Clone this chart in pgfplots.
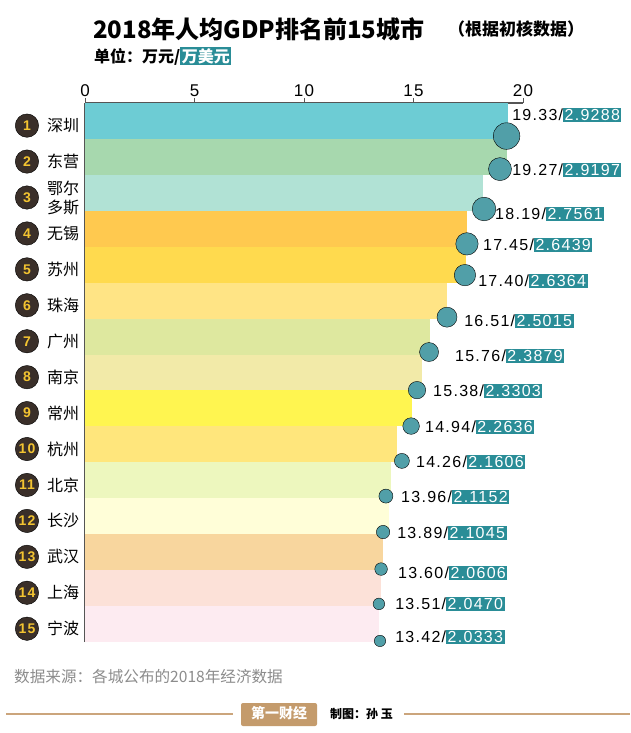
\documentclass[border=0pt]{standalone}
\usepackage{pgfplots}
\pgfplotsset{compat=1.18}
\usepackage{pgfplotstable}
\usepackage{fontspec}
\setmainfont{Noto Sans CJK SC}
\newfontfamily\num[LetterSpace=8]{Liberation Sans}
\definecolor{c1}{HTML}{6DCCD4}
\definecolor{c2}{HTML}{A7D8AE}
\definecolor{c3}{HTML}{B1E2D5}
\definecolor{c4}{HTML}{FFC94F}
\definecolor{c5}{HTML}{FFDA4E}
\definecolor{c6}{HTML}{FFE485}
\definecolor{c7}{HTML}{DEE89F}
\definecolor{c8}{HTML}{F2EAA8}
\definecolor{c9}{HTML}{FFF550}
\definecolor{c10}{HTML}{FFE67C}
\definecolor{c11}{HTML}{EDF7BE}
\definecolor{c12}{HTML}{FFFED8}
\definecolor{c13}{HTML}{F8D69E}
\definecolor{c14}{HTML}{FCE1D8}
\definecolor{c15}{HTML}{FDEBF1}
\definecolor{circ}{HTML}{519FA8}
\definecolor{lab}{HTML}{2A8D97}
\definecolor{dk}{HTML}{3A2F29}
\definecolor{yel}{HTML}{F3C431}
\definecolor{tanl}{HTML}{CBA57C}
\definecolor{tanf}{HTML}{C49B6C}
\definecolor{axl}{HTML}{555555}
\setlength{\fboxsep}{1.5pt}

\pgfplotstableread{
rank y val cx cy r lx ly nx ny usd
1 15 19.33 19.25 14.58 13.3 19.50 15.17 -2.65 14.87 2.9288
2 14 19.27 18.95 13.66 11.5 19.50 13.64 -2.65 13.87 2.9197
3 13 18.19 18.22 12.55 11.8 18.72 12.41 -2.65 12.87 2.7561
4 12 17.45 17.44 11.58 11.2 18.17 11.55 -2.65 11.87 2.6439
5 11 17.40 17.35 10.71 10.7 17.95 10.55 -2.65 10.87 2.6364
6 10 16.51 16.53 9.54 10.0 17.31 9.43 -2.65 9.87 2.5015
7 9 15.76 15.71 8.57 9.5 16.89 8.46 -2.65 8.87 2.3879
8 8 15.38 15.16 7.51 8.7 15.89 7.48 -2.65 7.87 2.3303
9 7 14.94 14.89 6.51 8.3 15.52 6.48 -2.65 6.87 2.2636
10 6 14.26 14.47 5.54 7.5 15.11 5.51 -2.65 5.87 2.1606
11 5 13.96 13.74 4.56 7.0 14.43 4.53 -2.65 4.87 2.1152
12 4 13.89 13.61 3.56 6.7 14.25 3.53 -2.65 3.87 2.1045
13 3 13.60 13.52 2.53 6.3 14.29 2.42 -2.65 2.87 2.0606
14 2 13.51 13.42 1.56 5.8 14.16 1.56 -2.65 1.87 2.0470
15 1 13.42 13.47 0.53 5.7 14.16 0.64 -2.65 0.87 2.0333
}\data

\begin{document}
\begin{tikzpicture}
\useasboundingbox (0,0) rectangle (630pt,-733pt);
\fill[white] (0,0) rectangle (630pt,-733pt);
\begin{axis}[
  at={(85pt,-103pt)}, anchor=north west,
  scale only axis, width=438pt, height=539pt,
  xmin=0, xmax=20, ymin=0.5, ymax=15.5,
  axis x line*=top, axis y line*=left,
  axis line style={draw=axl, line width=1.2pt},
  xtick={0,5,10,15,20},
  ytick={1,...,15},
  yticklabels={宁波,上海,武汉,长沙,北京,杭州,常州,南京,广州,珠海,苏州,无锡,{鄂尔\\多斯},东营,深圳},
  tick align=outside, major tick length=5pt,
  xtick style={draw=axl, line width=1pt},
  ytick style={draw=none},
  /pgf/number format/assume math mode=true,
  xticklabel style={font=\num\fontsize{17}{17}\selectfont, text=black, inner sep=1pt},
  yticklabel style={anchor=west, xshift=-33pt, yshift=-4.7pt, align=left, inner sep=0pt,
    font=\fontsize{16}{19}\selectfont, text=black},
  clip=false,
]
\addplot[xbar, bar width=35.93pt, bar shift=0pt, fill=c1, draw=none] coordinates {(19.33,15)};
\addplot[xbar, bar width=35.93pt, bar shift=0pt, fill=c2, draw=none] coordinates {(19.27,14)};
\addplot[xbar, bar width=35.93pt, bar shift=0pt, fill=c3, draw=none] coordinates {(18.19,13)};
\addplot[xbar, bar width=35.93pt, bar shift=0pt, fill=c4, draw=none] coordinates {(17.45,12)};
\addplot[xbar, bar width=35.93pt, bar shift=0pt, fill=c5, draw=none] coordinates {(17.40,11)};
\addplot[xbar, bar width=35.93pt, bar shift=0pt, fill=c6, draw=none] coordinates {(16.51,10)};
\addplot[xbar, bar width=35.93pt, bar shift=0pt, fill=c7, draw=none] coordinates {(15.76,9)};
\addplot[xbar, bar width=35.93pt, bar shift=0pt, fill=c8, draw=none] coordinates {(15.38,8)};
\addplot[xbar, bar width=35.93pt, bar shift=0pt, fill=c9, draw=none] coordinates {(14.94,7)};
\addplot[xbar, bar width=35.93pt, bar shift=0pt, fill=c10, draw=none] coordinates {(14.26,6)};
\addplot[xbar, bar width=35.93pt, bar shift=0pt, fill=c11, draw=none] coordinates {(13.96,5)};
\addplot[xbar, bar width=35.93pt, bar shift=0pt, fill=c12, draw=none] coordinates {(13.89,4)};
\addplot[xbar, bar width=35.93pt, bar shift=0pt, fill=c13, draw=none] coordinates {(13.60,3)};
\addplot[xbar, bar width=35.93pt, bar shift=0pt, fill=c14, draw=none] coordinates {(13.51,2)};
\addplot[xbar, bar width=35.93pt, bar shift=0pt, fill=c15, draw=none] coordinates {(13.42,1)};
% bubbles
\addplot[scatter, only marks, mark=*,
  scatter/use mapped color={draw=none, fill=circ},
  visualization depends on={\thisrow{r}\as\rr},
  scatter/@pre marker code/.append style={/tikz/mark size=\rr}]
  table[x=cx, y=cy] {\data};
% value labels
\addplot[draw=none, mark=none, point meta=explicit symbolic,
  visualization depends on={\thisrow{usd}\as\usd},
  nodes near coords={\pgfplotspointmeta/\colorbox{lab}{\textcolor{white}{\pgfmathprintnumber[fixed, precision=4, zerofill]{\usd}}}},
  every node near coord/.append style={anchor=west, inner sep=0pt, text=black,
    font=\num\fontsize{16}{16}\selectfont}]
  table[x=lx, y=ly, meta=val] {\data};
% rank circles
\addplot[only marks, mark=*, mark size=11.7pt, mark options={draw=none, fill=dk},
  point meta=explicit symbolic, nodes near coords,
  every node near coord/.append style={anchor=center, inner sep=0pt, text=yel,
    font=\num\bfseries\fontsize{14}{14}\selectfont}]
  table[x=nx, y=ny, meta=rank] {\data};
\end{axis}
\node[anchor=west, inner sep=0pt, font=\bfseries\fontsize{24}{24}\selectfont] at (93pt,-29pt) {2018年人均GDP排名前15城市};
\node[anchor=west, inner sep=0pt, font=\bfseries\fontsize{17}{17}\selectfont] at (448pt,-29pt) {（根据初核数据）};
\node[anchor=west, inner sep=0pt, font=\bfseries\fontsize{16}{16}\selectfont] at (94pt,-56pt) {单位：万元/\colorbox{lab}{\textcolor{white}{万美元}}};
\node[anchor=west, inner sep=0pt, text=black!45, font=\fontsize{15.6}{15.6}\selectfont] at (14pt,-677pt) {数据来源：各城公布的2018年经济数据};
\draw[tanl, line width=1.2pt] (6pt,-714pt) -- (233pt,-714pt);
\draw[tanl, line width=1.2pt] (404pt,-714pt) -- (630pt,-714pt);
\fill[tanf, rounded corners=2pt] (241pt,-703pt) rectangle (317pt,-726pt);
\node[text=white, inner sep=0pt, font=\bfseries\fontsize{14}{14}\selectfont] at (279pt,-713pt) {第一财经};
\node[anchor=west, inner sep=0pt, font=\bfseries\fontsize{12}{12}\selectfont] at (330pt,-714pt) {制图：孙 玉};
\end{tikzpicture}
\end{document}
